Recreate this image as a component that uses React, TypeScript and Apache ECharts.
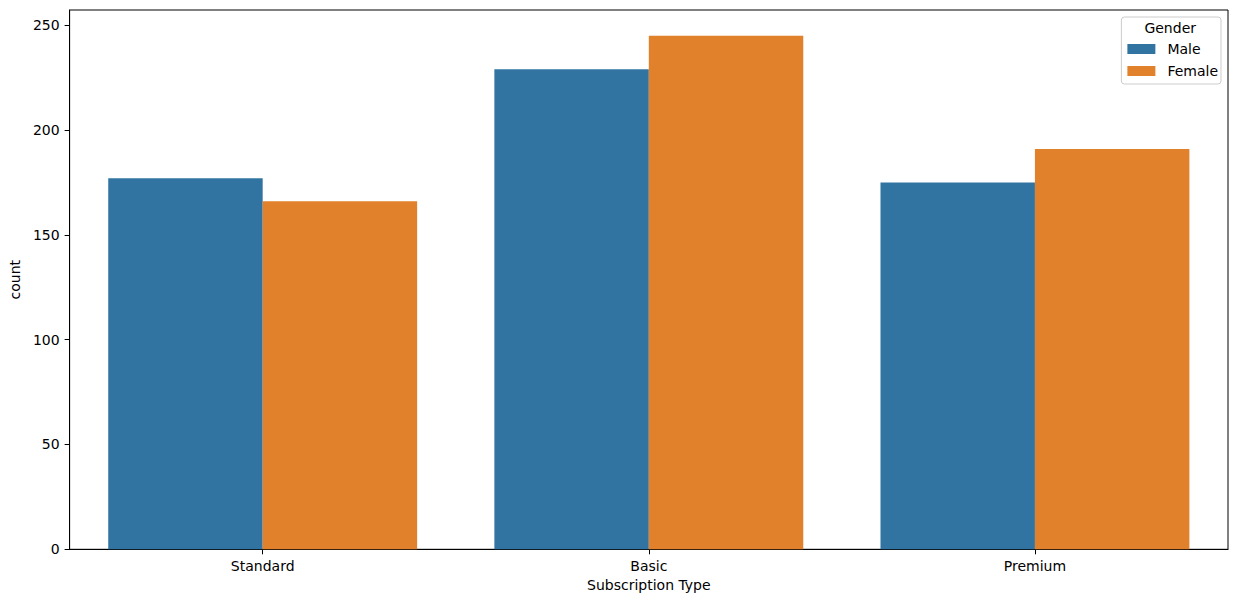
import React, { useEffect, useRef } from "react";
import * as echarts from "echarts";

const categories = ["Standard", "Basic", "Premium"];
const maleValues = [177, 229, 175];
const femaleValues = [166, 245, 191];
const yTicks = [0, 50, 100, 150, 200, 250];
const seriesNames = ["Male", "Female"];
const colors = ["#3274a1", "#e1812c"];

const FONT = "DejaVu Sans";

export default function App() {
  const ref = useRef<HTMLDivElement>(null);
  useEffect(() => {
    if (!ref.current) return;
    const chart = echarts.init(ref.current, undefined, { renderer: "svg" });
    const maxVal = Math.max(...maleValues, ...femaleValues) * 1.05;
    chart.setOption({
      animation: false,
      textStyle: { fontFamily: FONT, color: "#000" },
      grid: {
        left: 66.5,
        right: 10,
        top: 10,
        bottom: 52.7,
        show: true,
        borderColor: "#000",
        borderWidth: 1,
        containLabel: false,
      },
      legend: {
        orient: "vertical",
        right: 17,
        top: 17,
        data: seriesNames,
        itemWidth: 28,
        itemHeight: 10,
        itemGap: 8,
        padding: [25, 3, 6, 6],
        borderColor: "#cccccc",
        borderWidth: 1,
        borderRadius: 3,
        backgroundColor: "#fff",
        icon: "rect",
        textStyle: {
          fontFamily: FONT,
          fontSize: 14,
          color: "#000",
          padding: [0, 0, 0, 7],
        },
      },
      graphic: [
        {
          type: "text",
          right: 42,
          top: 21,
          style: {
            text: "Gender",
            fontFamily: FONT,
            fontSize: 14,
            fill: "#000",
          },
          z: 100,
        },
      ],
      xAxis: {
        type: "category",
        data: categories,
        name: "Subscription Type",
        nameLocation: "middle",
        nameGap: 28,
        nameTextStyle: { fontFamily: FONT, fontSize: 14, color: "#000" },
        axisLine: { show: true, lineStyle: { color: "#000", width: 1 } },
        axisTick: { show: true, alignWithLabel: true, length: 5, lineStyle: { color: "#000" } },
        axisLabel: { fontFamily: FONT, fontSize: 14, color: "#000", margin: 10 },
        splitLine: { show: false },
      },
      yAxis: {
        type: "value",
        min: 0,
        max: maxVal,
        interval: 50,
        name: "count",
        nameLocation: "middle",
        nameGap: 46,
        nameTextStyle: { fontFamily: FONT, fontSize: 14, color: "#000" },
        axisLine: { show: true, lineStyle: { color: "#000", width: 1 } },
        axisTick: { show: true, length: 5, lineStyle: { color: "#000" }, customValues: yTicks },
        axisLabel: { fontFamily: FONT, fontSize: 14, color: "#000", margin: 10, customValues: yTicks },
        splitLine: { show: false },
      },
      series: [
        {
          name: seriesNames[0],
          type: "bar",
          data: maleValues,
          barWidth: "40%",
          barGap: "0%",
          itemStyle: { color: colors[0] },
        },
        {
          name: seriesNames[1],
          type: "bar",
          data: femaleValues,
          barWidth: "40%",
          barGap: "0%",
          itemStyle: { color: colors[1] },
        },
      ],
    });
    return () => chart.dispose();
  }, []);
  return (
    <div
      ref={ref}
      style={{ position: "fixed", left: 0, top: 0, width: 1238, height: 602, background: "#fff" }}
    />
  );
}
